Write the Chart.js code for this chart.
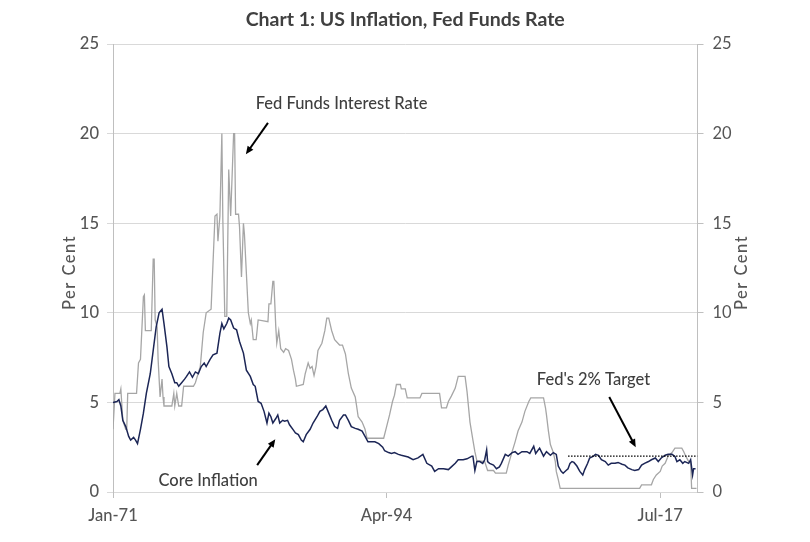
<!DOCTYPE html>
<html>
<head>
<meta charset="utf-8">
<title>US Inflation, Fed Funds Rate</title>
<script src="https://cdn.jsdelivr.net/npm/chart.js@4.4.1/dist/chart.umd.min.js"></script>
<style>
  html, body { margin: 0; padding: 0; background: #fff; }
  #wrap { width: 810px; height: 542px; }
</style>
</head>
<body>
<div id="wrap"><canvas id="myChart"></canvas></div>
<script>
// --- data ---
const chartTitle = 'Chart 1: US Inflation, Fed Funds Rate';
const axisTitle = 'Per Cent';
const xTickLabels = ['Jan-71', 'Apr-94', 'Jul-17'];
const yTicks = [0, 5, 10, 15, 20, 25];
const firstMonth = '1971-01';
const lastMonth = '2020-09';

const fedDates = [
    '1971-01', '1971-03', '1971-08', '1971-09', '1971-11', '1972-02', '1972-03', '1972-04',
    '1973-01', '1973-03', '1973-05', '1973-08', '1973-09', '1973-10', '1974-04', '1974-06',
    '1974-07', '1974-08', '1974-10', '1974-11', '1975-01', '1975-03', '1975-04', '1975-05',
    '1976-01', '1976-03', '1976-04', '1976-06', '1976-08', '1976-11', '1977-01', '1977-11',
    '1978-01', '1978-06', '1978-09', '1978-12', '1979-05', '1979-09', '1979-11', '1979-12',
    '1980-02', '1980-04', '1980-05', '1980-07', '1980-09', '1980-11', '1981-01', '1981-04',
    '1981-05', '1981-06', '1981-09', '1981-10', '1981-12', '1982-02', '1982-03', '1982-07',
    '1982-09', '1982-10', '1982-12', '1983-03', '1983-05', '1984-03', '1984-04', '1984-06',
    '1984-08', '1984-09', '1984-11', '1984-12', '1985-02', '1985-04', '1985-07', '1985-09',
    '1985-12', '1986-03', '1986-05', '1986-07', '1986-08', '1987-03', '1987-05', '1987-06',
    '1987-08', '1987-10', '1987-12', '1988-02', '1988-04', '1988-06', '1988-10', '1989-01',
    '1989-03', '1989-05', '1989-08', '1989-11', '1990-04', '1990-07', '1990-10', '1991-01',
    '1991-04', '1991-08', '1991-09', '1991-11', '1992-03', '1992-06', '1992-08', '1994-01',
    '1994-04', '1994-07', '1994-10', '1994-12', '1995-02', '1995-06', '1995-07', '1995-11',
    '1996-01', '1997-02', '1997-04', '1998-10', '1998-12', '1999-05', '1999-07', '1999-10',
    '2000-02', '2000-05', '2000-12', '2001-02', '2001-05', '2001-08', '2001-10', '2001-12',
    '2002-08', '2002-11', '2003-05', '2003-07', '2004-06', '2004-08', '2004-12', '2005-03',
    '2005-06', '2005-10', '2006-01', '2006-05', '2006-07', '2007-08', '2007-10', '2007-11',
    '2008-01', '2008-03', '2008-06', '2008-08', '2008-09', '2008-11', '2009-01', '2015-10',
    '2015-12', '2016-10', '2016-12', '2017-03', '2017-07', '2017-09', '2017-12', '2018-03',
    '2018-07', '2018-10', '2019-05', '2019-07', '2019-09', '2019-12', '2020-02', '2020-03',
    '2020-08'
];
const fedFunds = [
    3.5, 5.5, 5.5, 5.75, 4.0, 3.5, 3.5, 5.5,
    5.5, 7.2, 7.4, 10.9, 11.0, 9.0, 9.0, 13.0,
    13.0, 9.6, 9.2, 7.4, 5.3, 6.3, 5.3, 4.8,
    4.8, 5.5, 4.8, 5.5, 4.8, 4.8, 5.9, 5.9,
    6.1, 7.0, 8.9, 10.0, 10.2, 15.4, 15.5, 14.0,
    15.4, 20.0, 15.2, 9.8, 9.8, 18.0, 15.4, 20.0,
    20.0, 15.5, 15.5, 14.8, 12.0, 15.0, 14.4, 10.0,
    9.4, 9.6, 8.5, 8.5, 9.6, 9.5, 10.5, 10.5,
    11.75, 11.75, 9.2, 8.3, 9.0, 8.0, 7.8, 8.0,
    7.9, 7.4, 6.8, 6.3, 5.9, 6.0, 6.6, 6.8,
    7.2, 6.9, 7.0, 6.5, 7.0, 7.9, 8.3, 9.0,
    9.7, 9.7, 9.0, 8.5, 8.2, 8.2, 7.7, 6.6,
    5.8, 5.3, 4.95, 4.2, 3.9, 3.5, 3.0, 3.0,
    3.65, 4.3, 5.05, 5.4, 6.0, 6.0, 5.75, 5.75,
    5.25, 5.25, 5.5, 5.5, 4.7, 4.7, 5.05, 5.35,
    5.8, 6.45, 6.45, 5.6, 3.9, 2.9, 2.25, 1.75,
    1.7, 1.2, 1.2, 1.05, 1.05, 1.5, 2.25, 2.8,
    3.4, 3.9, 4.5, 5.05, 5.25, 5.25, 4.7, 4.3,
    3.4, 2.65, 2.2, 1.7, 1.15, 0.7, 0.2, 0.2,
    0.4, 0.4, 0.7, 0.95, 1.15, 1.45, 1.6, 2.0,
    2.2, 2.45, 2.45, 2.25, 2.0, 1.7, 1.7, 0.2,
    0.2
];

const coreDates = [
    '1971-01', '1971-05', '1971-07', '1971-09', '1971-11', '1972-02', '1972-05', '1972-07',
    '1972-10', '1972-12', '1973-02', '1973-05', '1973-08', '1973-11', '1974-03', '1974-06',
    '1974-09', '1974-12', '1975-03', '1975-05', '1975-08', '1975-10', '1976-01', '1976-04',
    '1976-06', '1976-08', '1976-11', '1977-02', '1977-04', '1977-07', '1977-10', '1978-01',
    '1978-04', '1978-07', '1978-10', '1978-12', '1979-04', '1979-07', '1979-11', '1980-02',
    '1980-04', '1980-06', '1980-09', '1980-11', '1981-01', '1981-04', '1981-07', '1981-10',
    '1982-02', '1982-05', '1982-09', '1982-12', '1983-02', '1983-05', '1983-08', '1983-11',
    '1984-02', '1984-04', '1984-06', '1984-08', '1984-11', '1985-01', '1985-03', '1985-06',
    '1985-08', '1985-11', '1986-01', '1986-05', '1986-07', '1986-10', '1987-01', '1987-03',
    '1987-06', '1987-10', '1988-01', '1988-05', '1988-08', '1988-11', '1989-02', '1989-05',
    '1989-08', '1989-11', '1990-02', '1990-04', '1990-08', '1990-10', '1991-01', '1991-04',
    '1991-08', '1991-11', '1992-03', '1992-06', '1992-09', '1993-01', '1993-04', '1993-08',
    '1993-12', '1994-02', '1994-06', '1994-09', '1994-12', '1995-04', '1995-07', '1995-11',
    '1996-02', '1996-07', '1996-12', '1997-05', '1997-09', '1998-02', '1998-05', '1998-09',
    '1999-02', '1999-07', '1999-10', '2000-02', '2000-05', '2000-10', '2001-02', '2001-07',
    '2001-08', '2001-10', '2001-12', '2002-03', '2002-06', '2002-08', '2002-10', '2002-11',
    '2003-01', '2003-05', '2003-08', '2003-11', '2004-01', '2004-05', '2004-08', '2004-12',
    '2005-03', '2005-06', '2005-10', '2006-03', '2006-06', '2006-10', '2006-12', '2007-04',
    '2007-08', '2007-11', '2008-03', '2008-06', '2008-09', '2008-11', '2009-02', '2009-04',
    '2009-07', '2009-09', '2009-11', '2010-01', '2010-03', '2010-06', '2010-09', '2010-12',
    '2011-02', '2011-05', '2011-07', '2011-11', '2012-01', '2012-04', '2012-07', '2012-11',
    '2013-02', '2013-05', '2013-09', '2013-12', '2014-04', '2014-07', '2014-10', '2015-02',
    '2015-05', '2015-09', '2015-12', '2016-03', '2016-07', '2016-10', '2017-02', '2017-05',
    '2017-08', '2017-12', '2018-03', '2018-07', '2018-10', '2018-12', '2019-03', '2019-06',
    '2019-08', '2019-12', '2020-02', '2020-04', '2020-05', '2020-07'
];
const coreInflation = [
    5.0, 5.05, 5.15, 4.8, 4.0, 3.65, 3.1, 2.9,
    3.05, 2.9, 2.7, 3.5, 4.4, 5.5, 6.6, 7.9,
    9.2, 10.0, 10.2, 9.4, 8.1, 7.0, 6.6, 6.1,
    6.1, 5.9, 6.1, 6.3, 6.45, 6.7, 6.4, 6.7,
    6.6, 7.0, 7.2, 7.0, 7.4, 7.65, 7.75, 8.85,
    9.4, 9.1, 9.4, 9.7, 9.6, 9.15, 9.05, 8.4,
    7.75, 6.8, 6.45, 6.0, 5.9, 5.05, 4.95, 4.5,
    3.85, 4.4, 4.2, 3.85, 4.1, 4.3, 3.85, 4.0,
    3.95, 4.0, 3.75, 3.45, 3.3, 3.2, 2.9, 2.8,
    3.2, 3.5, 3.85, 4.2, 4.5, 4.6, 4.8, 4.4,
    4.0, 3.65, 3.55, 4.0, 4.3, 4.3, 4.0, 3.65,
    3.55, 3.5, 3.4, 3.1, 2.8, 2.8, 2.8, 2.7,
    2.5, 2.3, 2.2, 2.15, 2.2, 2.1, 2.05, 2.0,
    1.95, 1.8, 1.9, 2.1, 1.6, 1.45, 1.15, 1.3,
    1.3, 1.25, 1.4, 1.6, 1.8, 1.8, 1.85, 2.0,
    2.0, 1.2, 1.7, 1.7, 1.6, 1.8, 2.35, 1.7,
    1.6, 1.5, 1.3, 1.4, 1.6, 2.1, 2.0, 2.2,
    2.25, 2.1, 2.25, 2.25, 2.15, 2.55, 2.15, 2.45,
    2.0, 2.25, 2.05, 2.2, 2.1, 1.45, 1.15, 1.05,
    1.2, 1.3, 1.6, 1.7, 1.65, 1.45, 1.15, 0.95,
    1.25, 1.6, 1.9, 2.0, 2.1, 2.05, 1.8, 1.7,
    1.5, 1.6, 1.6, 1.65, 1.55, 1.5, 1.35, 1.25,
    1.2, 1.25, 1.5, 1.6, 1.7, 1.8, 1.9, 1.7,
    1.9, 2.05, 2.1, 2.1, 1.98, 1.7, 1.8, 1.6,
    1.7, 1.6, 1.8, 0.95, 1.3, 1.3
];

const targetDates = ['2009-09', '2020-09'];
const targetRate = [2, 2];

// --- helpers ---
const monthNames = ['Jan', 'Feb', 'Mar', 'Apr', 'May', 'Jun', 'Jul', 'Aug', 'Sep', 'Oct', 'Nov', 'Dec'];
const baseYear = Number(firstMonth.slice(0, 4));

function monthIndex(d) {
    const [y, m] = d.split('-').map(Number);
    return (y - baseYear) * 12 + (m - 1);
}

function labelIndex(label) {
    const [mon, yy] = label.split('-');
    const y = Number(yy) < 50 ? 2000 + Number(yy) : 1900 + Number(yy);
    return (y - baseYear) * 12 + monthNames.indexOf(mon);
}

function toPoints(dates, values) {
    return dates.map((d, i) => ({ x: monthIndex(d), y: values[i] }));
}

const font = 'Lato, "Open Sans", sans-serif';
const textGrey = '#555555';
const tickFont = { family: font, size: 16.5, weight: 500 };

// annotation text + arrows, placed in data units (month index, per cent)
const notes = [
    { text: 'Fed Funds Interest Rate', at: [233, 21.65], from: [158, 20.6], to: [135.5, 18.85] },
    { text: 'Core Inflation', at: [97, 0.66], from: [147, 1.5], to: [165.5, 2.95] },
    { text: "Fed's 2% Target", at: [490, 6.25], from: [506, 5.3], to: [533, 2.5] }
];

const decorations = {
    id: 'decorations',
    afterDraw(chart) {
        const { ctx, chartArea } = chart;
        const x = chart.scales.x;
        const y = chart.scales.y;
        ctx.save();

        // title
        ctx.fillStyle = '#404040';
        ctx.font = 'bold 19.5px ' + font;
        ctx.textAlign = 'center';
        ctx.textBaseline = 'middle';
        ctx.fillText(chartTitle, (chartArea.left + chartArea.right) / 2, 20);

        // axis titles, both read bottom to top
        ctx.font = '500 16.5px ' + font;
        ctx.fillStyle = textGrey;
        ctx.letterSpacing = '1.5px';
        const midY = chartArea.top + (chartArea.bottom - chartArea.top) * 0.51;
        [chartArea.left - 43, chartArea.right + 44].forEach(cx => {
            ctx.save();
            ctx.translate(cx, midY);
            ctx.rotate(-Math.PI / 2);
            ctx.fillText(axisTitle, 0, 0);
            ctx.restore();
        });
        ctx.letterSpacing = '0px';

        // annotations
        notes.forEach(n => {
            ctx.fillStyle = '#3f3f3f';
            ctx.font = '500 16.5px ' + font;
            ctx.fillText(n.text, x.getPixelForValue(n.at[0]), y.getPixelForValue(n.at[1]));

            const x1 = x.getPixelForValue(n.from[0]);
            const y1 = y.getPixelForValue(n.from[1]);
            const x2 = x.getPixelForValue(n.to[0]);
            const y2 = y.getPixelForValue(n.to[1]);
            const ang = Math.atan2(y2 - y1, x2 - x1);
            const head = 8;
            ctx.strokeStyle = '#000';
            ctx.lineWidth = 2;
            ctx.beginPath();
            ctx.moveTo(x1, y1);
            ctx.lineTo(x2 - Math.cos(ang) * head * 0.8, y2 - Math.sin(ang) * head * 0.8);
            ctx.stroke();
            ctx.fillStyle = '#000';
            ctx.beginPath();
            ctx.moveTo(x2, y2);
            ctx.lineTo(x2 - head * Math.cos(ang) + 3.5 * Math.sin(ang), y2 - head * Math.sin(ang) - 3.5 * Math.cos(ang));
            ctx.lineTo(x2 - head * Math.cos(ang) - 3.5 * Math.sin(ang), y2 - head * Math.sin(ang) + 3.5 * Math.cos(ang));
            ctx.closePath();
            ctx.fill();
        });
        ctx.restore();
    }
};

const ctx = document.getElementById('myChart').getContext('2d');

const myChart = new Chart(ctx, {
    type: 'line',
    data: {
        datasets: [{
            label: "Fed's 2% Target",
            data: toPoints(targetDates, targetRate),
            borderColor: '#000',
            borderWidth: 1.2,
            borderDash: [1.5, 1.5],
            pointRadius: 0
        }, {
            label: 'Core Inflation',
            data: toPoints(coreDates, coreInflation),
            borderColor: '#1c2656',
            borderWidth: 1.5,
            pointRadius: 0
        }, {
            label: 'Fed Funds Interest Rate',
            data: toPoints(fedDates, fedFunds),
            borderColor: '#a6a6a6',
            borderWidth: 1.3,
            pointRadius: 0
        }]
    },
    options: {
        responsive: true,
        maintainAspectRatio: false,
        animation: false,
        layout: { padding: { top: 44, left: 0, right: 0, bottom: 0 } },
        plugins: {
            legend: { display: false },
            title: { display: false },
            tooltip: { enabled: false }
        },
        scales: {
            x: {
                type: 'linear',
                min: monthIndex(firstMonth),
                max: monthIndex(lastMonth),
                afterBuildTicks: scale => {
                    scale.ticks = xTickLabels.map(l => ({ value: labelIndex(l) }));
                },
                afterFit: scale => { scale.height = 50; },
                ticks: {
                    autoSkip: false,
                    maxRotation: 0,
                    padding: 8,
                    color: textGrey,
                    font: tickFont,
                    callback: value => xTickLabels.find(l => labelIndex(l) === value) || ''
                },
                grid: { drawOnChartArea: false, drawTicks: true, tickLength: 6, color: '#bfbfbf' },
                border: { color: '#d9d9d9' }
            },
            y: {
                position: 'left',
                min: 0,
                max: 25,
                afterBuildTicks: scale => { scale.ticks = yTicks.map(v => ({ value: v })); },
                afterFit: scale => { scale.width = 113; },
                ticks: {
                    padding: 8,
                    color: textGrey,
                    font: tickFont
                },
                grid: { color: '#d9d9d9', tickLength: 6 },
                border: { color: '#bfbfbf' }
            },
            y2: {
                position: 'right',
                min: 0,
                max: 25,
                afterBuildTicks: scale => { scale.ticks = yTicks.map(v => ({ value: v })); },
                afterFit: scale => { scale.width = 112.5; },
                ticks: {
                    padding: 9,
                    color: textGrey,
                    font: { family: font, size: 16.5 }
                },
                grid: { drawOnChartArea: false, color: '#bfbfbf', tickLength: 6 },
                border: { color: '#bfbfbf' }
            }
        }
    },
    plugins: [decorations]
});
</script>
</body>
</html>
